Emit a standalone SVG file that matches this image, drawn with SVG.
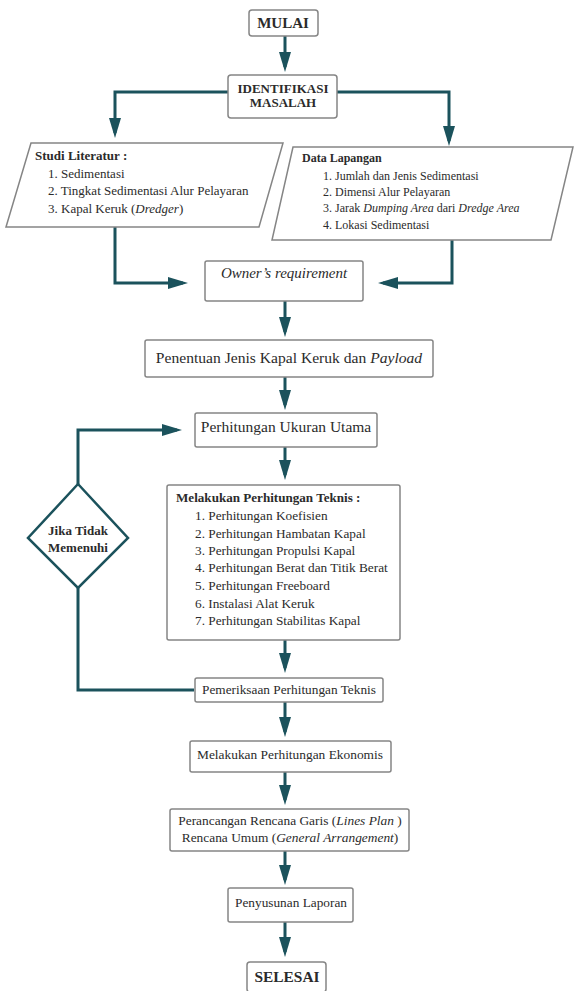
<svg xmlns="http://www.w3.org/2000/svg" width="575" height="991" viewBox="0 0 575 991">
<style>
.box{fill:#ffffff;stroke:#858585;stroke-width:1.5}
.t{font-family:"Liberation Serif","Times New Roman",serif;fill:#2b2b2b}
.c{text-anchor:middle}
.b{font-weight:bold}
.i{font-style:italic}
.conn{fill:none;stroke:#1b525c;stroke-width:3}
.arr{marker-end:url(#ah)}
</style>
<defs>
<marker id="ah" viewBox="0 0 20 12" markerWidth="20" markerHeight="12" refX="15" refY="6" orient="auto" markerUnits="userSpaceOnUse">
<path d="M0,0 L20,6 L0,12 z" fill="#1b525c"/>
</marker>
</defs>
<rect width="575" height="991" fill="#ffffff"/>

<g id="connectors">
<path class="conn arr" d="M285,36 V67"/>
<path class="conn arr" d="M228,92 H115 V133"/>
<path class="conn arr" d="M337,92 H449 V141"/>
<path class="conn arr" d="M115,227 V283 H183"/>
<path class="conn arr" d="M452,240 V283 H383"/>
<path class="conn arr" d="M285,301 V332"/>
<path class="conn arr" d="M285,377 V405"/>
<path class="conn arr" d="M285,447 V475"/>
<path class="conn arr" d="M285,640 V668"/>
<path class="conn" d="M194,690 H78 V588"/>
<path class="conn arr" d="M78,484 V430 H177"/>
<path class="conn arr" d="M285,702 V732"/>
<path class="conn arr" d="M285,772 V800"/>
<path class="conn arr" d="M285,851 V880"/>
<path class="conn arr" d="M285,922 V952"/>
</g>

<g id="mulai">
<rect class="box" x="249" y="10" width="69" height="26" rx="3"/>
<text class="t c b" x="283" y="28" font-size="15">MULAI</text>
</g>

<g id="identifikasi">
<rect class="box" x="228" y="75" width="109" height="43" rx="3"/>
<text class="t c b" x="283" y="93" font-size="13">IDENTIFIKASI</text>
<text class="t c b" x="283" y="107" font-size="13">MASALAH</text>
</g>

<g id="studi">
<polygon class="box" points="31,143 283,143 259,227 6,227"/>
<text class="t b" x="35" y="160" font-size="13">Studi Literatur :</text>
<text class="t" x="48" y="178" font-size="13">1. Sedimentasi</text>
<text class="t" x="48" y="195" font-size="13">2. Tingkat Sedimentasi Alur Pelayaran</text>
<text class="t" x="48" y="213" font-size="13">3. Kapal Keruk (<tspan class="i">Dredger</tspan>)</text>
</g>

<g id="data">
<polygon class="box" points="293,147 573,147 551,240 272,240"/>
<text class="t b" x="302" y="162" font-size="12">Data Lapangan</text>
<text class="t" x="323" y="180" font-size="12">1. Jumlah dan Jenis Sedimentasi</text>
<text class="t" x="323" y="196" font-size="12">2. Dimensi Alur Pelayaran</text>
<text class="t" x="323" y="212" font-size="12">3. Jarak <tspan class="i">Dumping Area</tspan> dari <tspan class="i">Dredge Area</tspan></text>
<text class="t" x="323" y="229" font-size="12">4. Lokasi Sedimentasi</text>
</g>

<g id="owner">
<rect class="box" x="205" y="261" width="158" height="40" rx="2"/>
<text class="t c i" x="284" y="278" font-size="15">Owner’s requirement</text>
</g>

<g id="penentuan">
<rect class="box" x="145" y="340" width="288" height="37" rx="2"/>
<text class="t c" x="289" y="363" font-size="15.6">Penentuan Jenis Kapal Keruk dan <tspan class="i">Payload</tspan></text>
</g>

<g id="ukuran">
<rect class="box" x="195" y="413" width="182" height="34" rx="2"/>
<text class="t c" x="286" y="432" font-size="15.5">Perhitungan Ukuran Utama</text>
</g>

<g id="teknis">
<rect class="box" x="167" y="485" width="233" height="155" rx="2"/>
<text class="t b" x="176" y="502" font-size="13.1">Melakukan Perhitungan Teknis :</text>
<text class="t" x="195" y="520" font-size="13.3">1. Perhitungan Koefisien</text>
<text class="t" x="195" y="538" font-size="13.3">2. Perhitungan Hambatan Kapal</text>
<text class="t" x="195" y="555" font-size="13.3">3. Perhitungan Propulsi Kapal</text>
<text class="t" x="195" y="572" font-size="13.3">4. Perhitungan Berat dan Titik Berat</text>
<text class="t" x="195" y="590" font-size="13.3">5. Perhitungan Freeboard</text>
<text class="t" x="195" y="608" font-size="13.3">6. Instalasi Alat Keruk</text>
<text class="t" x="195" y="625" font-size="13.3">7. Perhitungan Stabilitas Kapal</text>
</g>

<g id="keputusan">
<polygon points="78,484 128,538 78,588 28,538" fill="#ffffff" stroke="#1b525c" stroke-width="2.5"/>
<text class="t c b" x="78" y="535" font-size="13">Jika Tidak</text>
<text class="t c b" x="78" y="552" font-size="13">Memenuhi</text>
</g>

<g id="pemeriksaan">
<rect class="box" x="195" y="678" width="188" height="24" rx="2"/>
<text class="t c" x="289" y="694" font-size="13.3">Pemeriksaan Perhitungan Teknis</text>
</g>

<g id="ekonomis">
<rect class="box" x="190" y="741" width="201" height="31" rx="2"/>
<text class="t c" x="290" y="759" font-size="13.4">Melakukan Perhitungan Ekonomis</text>
</g>

<g id="perancangan">
<rect class="box" x="170" y="809" width="239" height="42" rx="2"/>
<text class="t c" x="290" y="825" font-size="13.4">Perancangan Rencana Garis (<tspan class="i">Lines Plan</tspan> )</text>
<text class="t c" x="290" y="842" font-size="13.4">Rencana Umum (<tspan class="i">General Arrangement</tspan>)</text>
</g>

<g id="penyusunan">
<rect class="box" x="228" y="888" width="125" height="34" rx="2"/>
<text class="t c" x="291" y="907" font-size="13.3">Penyusunan Laporan</text>
</g>

<g id="selesai">
<rect class="box" x="247" y="962" width="79" height="30" rx="3"/>
<text class="t c b" x="287" y="982" font-size="15.4">SELESAI</text>
</g>
</svg>
